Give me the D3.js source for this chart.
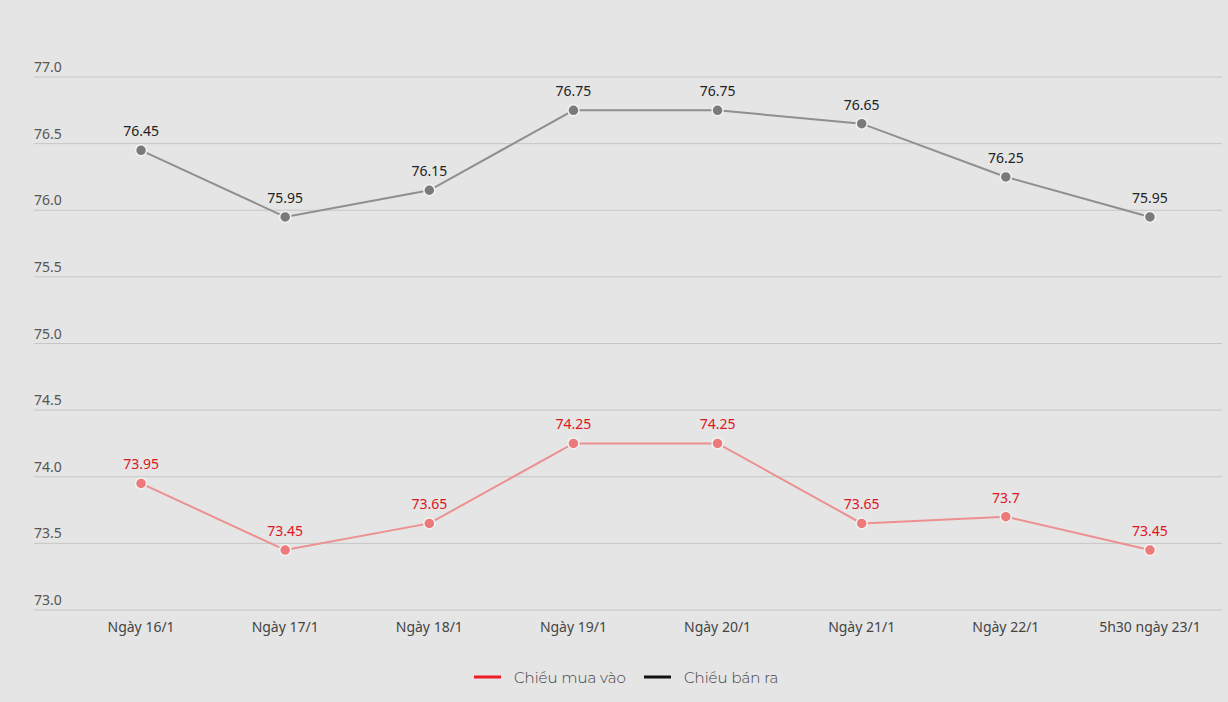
<!DOCTYPE html>
<html><head><meta charset="utf-8">
<script src="https://cdn.jsdelivr.net/npm/d3@7"></script>
<style>html,body{margin:0;padding:0;background:#e5e5e5;}svg{display:block;}</style>
</head><body><div id="chart"></div>
<script>
const categories = ["Ngày 16/1","Ngày 17/1","Ngày 18/1","Ngày 19/1","Ngày 20/1","Ngày 21/1","Ngày 22/1","5h30 ngày 23/1"];
const buyValues = [73.95,73.45,73.65,74.25,74.25,73.65,73.7,73.45];
const sellValues = [76.45,75.95,76.15,76.75,76.75,76.65,76.25,75.95];
const yTicks = [73.0,73.5,74.0,74.5,75.0,75.5,76.0,76.5,77.0];
const seriesNames = ["Chiều mua vào","Chiều bán ra"];

const W=1228,H=702;
const svg=d3.select("#chart").append("svg").attr("width",W).attr("height",H);
svg.append("rect").attr("width",W).attr("height",H).attr("fill","#e5e5e5");
const font="'Noto Sans','Open Sans',sans-serif";
const x=d3.scaleBand().domain(categories).range([69,1222]);
const y=d3.scaleLinear().domain([73,77]).range([610,77]);
const cx=d=>x(d)+x.bandwidth()/2;

// grid
const g=svg.append("g");
yTicks.forEach(t=>{
  g.append("line").attr("x1",34).attr("x2",1222).attr("y1",y(t)).attr("y2",y(t)).attr("stroke","#c6c6c6").attr("stroke-width",1);
  g.append("text").attr("x",34).attr("y",y(t)-5).text(d3.format(".1f")(t)).attr("font-family",font).attr("font-size",14).attr("fill","#555");
});
categories.forEach(c=>{
  g.append("text").attr("x",cx(c)).attr("y",632).attr("text-anchor","middle").text(c).attr("font-family",font).attr("font-size",14).attr("fill","#444");
});

function series(vals,lineColor,markerColor,labelColor){
  const pts=categories.map((c,i)=>[cx(c),y(vals[i])]);
  svg.append("path").attr("d",d3.line()(pts)).attr("fill","none").attr("stroke",lineColor).attr("stroke-width",2);
  pts.forEach((p,i)=>{
    svg.append("circle").attr("cx",p[0]).attr("cy",p[1]).attr("r",5.5).attr("fill",markerColor).attr("stroke","#f3f3f3").attr("stroke-width",1.5);
    svg.append("text").attr("x",p[0]).attr("y",p[1]-14).attr("text-anchor","middle").text(vals[i]).attr("font-family",font).attr("font-size",14).attr("fill",labelColor);
  });
}
series(sellValues,"#8f8f8f","#7a7a7a","#222");
series(buyValues,"#ec9090","#ec7a7a","#e0141e");

// legend
const lg=svg.append("g").attr("font-family","'Montserrat','Lato','Noto Sans',sans-serif").attr("font-size",15).attr("fill","#444");
const legendColors=["#ee1c24","#111"];
const lx=[474,644];
seriesNames.forEach((n,i)=>{
  lg.append("rect").attr("x",lx[i]).attr("y",675.5).attr("width",27).attr("height",3).attr("fill",legendColors[i]);
  lg.append("text").attr("x",lx[i]+40).attr("y",683).text(n).attr("font-weight",300);
});
</script></body></html>
